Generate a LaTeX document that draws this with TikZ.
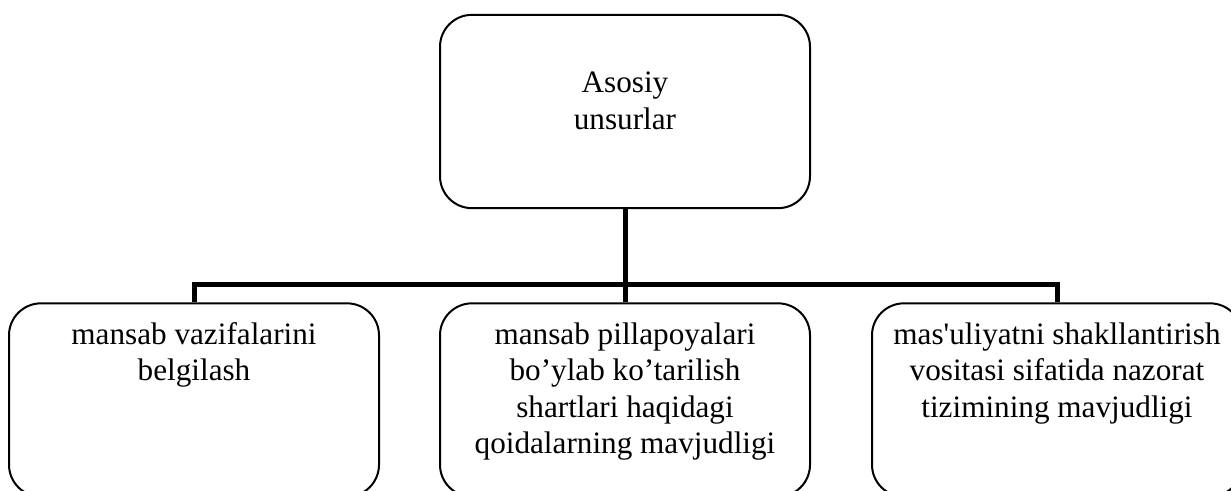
\documentclass[tikz,border=0pt]{standalone}
\usepackage{fontspec}
\setmainfont{Liberation Serif}
\begin{document}
\begin{tikzpicture}[x=0.75pt,y=-0.75pt,
  box/.style={draw,line width=1.5pt,rounded corners=24pt,
    minimum width=277.5pt,minimum height=145pt,inner sep=0pt},
  label/.style={align=center,inner sep=0pt,
    font=\fontsize{23.4}{27.3}\selectfont},
  link/.style={line width=3.75pt}]
  \useasboundingbox (0,0) rectangle (1231,490);
  \clip (0,0) rectangle (1231,490);
  \fill[white] (0,0) rectangle (1231,490);

  % boxes
  \node[box] (top) at (625,111.5) {};
  \node[box] (left) at (194,400) {};
  \node[box] (mid) at (625,400) {};
  \node[box] (right) at (1057,400) {};

  % texts
  \node[label] (ttop) at (625,101) {Asosiy\\unsurlar};
  \node[label,anchor=north] (tleft) at ([yshift=-15pt]left.north)
    {mansab vazifalarini\\belgilash};
  \node[label,anchor=north] (tmid) at ([yshift=-15pt]mid.north)
    {mansab pillapoyalari\\bo’ylab ko’tarilish\\shartlari haqidagi\\qoidalarning mavjudligi};
  \node[label,anchor=north] (tright) at ([yshift=-15pt]right.north)
    {mas\textquotesingle uliyatni shakllantirish\\vositasi sifatida nazorat\\tizimining mavjudligi};

  % connectors
  \coordinate (bus) at (625,284);
  \draw[link] (top.south) -- (mid.north);
  \draw[link] (left.north) |- (bus) -| (right.north);
\end{tikzpicture}
\end{document}
